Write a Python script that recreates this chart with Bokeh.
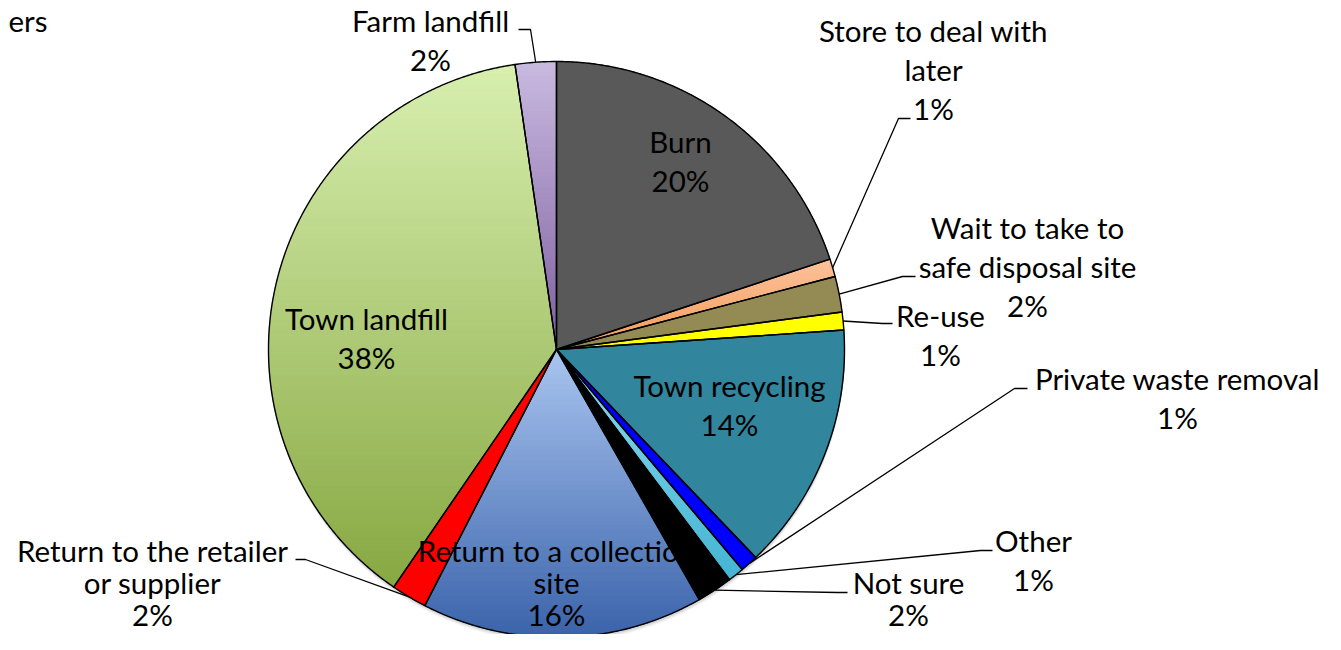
import numpy as np
from bokeh.plotting import figure
from bokeh.models import Range1d
from bokeh.embed import file_html
from bokeh.resources import INLINE
from bokeh.core.properties import value

# ---------------- data ----------------
title_fragment = "ers"
categories = ["Burn", "Store to deal with later", "Wait to take to safe disposal site",
              "Re-use", "Town recycling", "Private waste removal", "Other", "Not sure",
              "Return to a collection site", "Return to the retailer or supplier",
              "Town landfill", "Farm landfill"]
shares = [19.9, 1.0, 2.0, 1.0, 13.9, 1.0, 0.9, 2.0, 15.8, 2.0, 38.1, 2.3]
pct_labels = ["20%", "1%", "2%", "1%", "14%", "1%", "1%", "2%", "16%", "2%", "38%", "2%"]
label_lines = [["Burn"], ["Store to deal with", "later"], ["Wait to take to", "safe disposal site"],
               ["Re-use"], ["Town recycling"], ["Private waste removal"], ["Other"], ["Not sure"],
               ["Return to a collection", "site"], ["Return to the retailer", "or supplier"],
               ["Town landfill"], ["Farm landfill"]]

# ---------------- styles / layout ----------------
fill_top = ["#595959", "#FCC29C", "#948A54", "#FFFF00", "#31859C", "#0000FF", "#8ADCEE",
            "#000000", "#AAC5F0", "#FF0000", "#D8EFAF", "#C9BAE0"]
fill_bot = ["#595959", "#F59A55", "#948A54", "#FFFF00", "#31859C", "#0000FF", "#44B4D3",
            "#000000", "#3A63AA", "#FF0000", "#87A842", "#7E5FA0"]
# label anchor: (x centre, first line middle, line spacing); leader: elbow and end (None = inside)
label_pos = [(680, 141, 38.8), (933, 30, 38.8), (1027, 227, 38.8), (940, 315, 38.8),
             (729, 385, 38.8), (1177, 378, 38.8), (1033, 540, 38.8), (908, 582, 32),
             (556, 550, 32), (152, 550, 32), (366, 318, 38.8), (430, 20, 38.8)]
leader = [None, ((898, 118), (910, 118)), ((902, 276), (915, 276)), ((882, 323), (892, 323)),
          None, ((1014, 388), (1027, 388)), ((980, 550), (992, 550)), ((837, 592), (847, 592)),
          None, ((305, 559), (295, 559)), None, ((530, 29), (518, 29))]
CX, CY, R = 556.0, 349.0, 288.0
FONT = value("Lato")
FSIZE = "29.5px"

W, H = 1325, 634
p = figure(width=W, height=H, x_range=Range1d(0, W), y_range=Range1d(H, 0),
           output_backend="svg", toolbar_location=None, min_border=0)
p.axis.visible = False
p.grid.visible = False
p.outline_line_color = None
p.background_fill_color = "white"
p.border_fill_color = "white"


def wedge_poly(a0, a1):
    n = max(4, int(abs(a1 - a0) / 0.4))
    th = np.radians(np.linspace(a0, a1, n))
    xs = [CX] + list(CX + R * np.sin(th))
    ys = [CY] + list(CY - R * np.cos(th))
    return xs, ys


def clip(xs, ys, y0, y1):
    pts = list(zip(xs, ys))

    def clip_half(pts, inside, inter):
        out = []
        for i in range(len(pts)):
            cur, prev = pts[i], pts[i - 1]
            if inside(cur):
                if not inside(prev):
                    out.append(inter(prev, cur))
                out.append(cur)
            elif inside(prev):
                out.append(inter(prev, cur))
        return out

    def inter_y(yc):
        def f(a, b):
            t = (yc - a[1]) / (b[1] - a[1])
            return (a[0] + t * (b[0] - a[0]), yc)
        return f

    pts = clip_half(pts, lambda q: q[1] >= y0, inter_y(y0))
    if not pts:
        return [], []
    pts = clip_half(pts, lambda q: q[1] <= y1, inter_y(y1))
    return [q[0] for q in pts], [q[1] for q in pts]


def hex2rgb(h):
    h = h.lstrip("#")
    return np.array([int(h[i:i + 2], 16) for i in (0, 2, 4)], dtype=float)


def mix(c0, c1, t):
    c = hex2rgb(c0) * (1 - t) + hex2rgb(c1) * t
    return "#%02x%02x%02x" % tuple(int(round(v)) for v in c)


# shadow
for dy, a in [(2, 0.05), (3, 0.05), (4, 0.04), (5, 0.03)]:
    p.circle(x=[CX + 0.5], y=[CY + dy], radius=R, fill_color="black", fill_alpha=a,
             line_color=None)

total = sum(shares)
angles = np.concatenate([[0], np.cumsum(shares) / total * 360.0])

outline_xs, outline_ys = [], []
band_xs, band_ys, band_c = [], [], []
for i in range(len(shares)):
    xs, ys = wedge_poly(angles[i], angles[i + 1])
    outline_xs.append(xs)
    outline_ys.append(ys)
    if fill_top[i] == fill_bot[i]:
        band_xs.append(xs); band_ys.append(ys); band_c.append(fill_top[i])
    else:
        ymin, ymax = min(ys), max(ys)
        nb = max(8, int((ymax - ymin) / 5))
        edges = np.linspace(ymin, ymax, nb + 1)
        for k in range(nb):
            bx, by = clip(xs, ys, edges[k], edges[k + 1])
            if len(bx) < 3:
                continue
            band_xs.append(bx); band_ys.append(by)
            band_c.append(mix(fill_top[i], fill_bot[i], (k + 0.5) / nb))

p.patches(xs=band_xs, ys=band_ys, fill_color=band_c, line_color=band_c, line_width=1.0)
p.patches(xs=outline_xs, ys=outline_ys, fill_alpha=0, line_color="black", line_width=1.4,
          line_join="round")

# labels
tx, ty, tt = [], [], []
for i in range(len(shares)):
    x0, y0, lh = label_pos[i]
    lines = label_lines[i] + [pct_labels[i]]
    for k, s in enumerate(lines):
        tx.append(x0); ty.append(y0 + k * lh); tt.append(s)
p.text(x=tx, y=ty, text=tt, text_font=FONT, text_font_size=FSIZE, text_align="center",
       text_baseline="middle", text_color="black")

# leader lines
lx, ly = [], []
for i in range(len(shares)):
    if leader[i] is None:
        continue
    mid = np.radians((angles[i] + angles[i + 1]) / 2)
    ex, ey = CX + R * np.sin(mid), CY - R * np.cos(mid)
    (bx, by), (hx, hy) = leader[i]
    lx.append([ex, bx, hx]); ly.append([ey, by, hy])
p.multi_line(xs=lx, ys=ly, line_color="black", line_width=1.3)

# cropped title fragment
p.text(x=[47], y=[20], text=[title_fragment], text_font=FONT, text_font_size=FSIZE,
       text_align="right", text_baseline="middle", text_color="black")

open("out.html", "w").write(file_html(p, INLINE))
